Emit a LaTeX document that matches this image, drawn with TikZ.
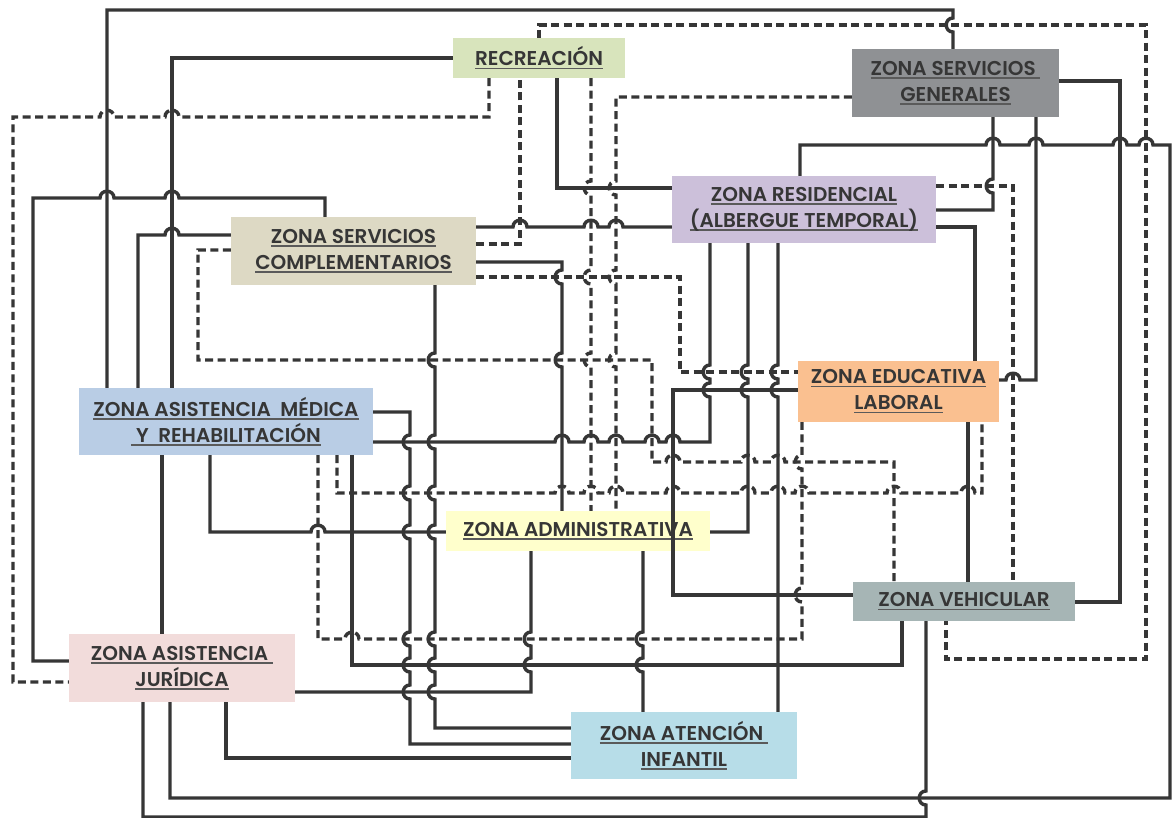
\documentclass[tikz,border=0pt]{standalone}
\usepackage{fontspec}
\setmainfont{Poppins}[BoldFont={Poppins SemiBold}]
\usepackage{xcolor}
\usepackage{tikz}

\definecolor{lncol}{HTML}{363636}
\definecolor{txtcol}{HTML}{363636}
\definecolor{ulcol}{HTML}{5A5A5A}
\definecolor{recfill}{HTML}{D8E4BC}
\definecolor{zsgfill}{HTML}{8F9194}
\definecolor{zrfill}{HTML}{CCC0DA}
\definecolor{zscfill}{HTML}{DDD9C4}
\definecolor{zamrfill}{HTML}{B9CDE5}
\definecolor{zelfill}{HTML}{FAC090}
\definecolor{zadmfill}{HTML}{FFFFCC}
\definecolor{zvfill}{HTML}{A6B5B5}
\definecolor{zajfill}{HTML}{F2DCDB}
\definecolor{zaifill}{HTML}{B7DDE8}

% underlined label text
\newcommand\ul[1]{\sbox0{#1}\rlap{\color{ulcol}\rule[-3.5pt]{\wd0}{1.8pt}}\usebox0}
% line hops: right, left, down, up
\newcommand\hopr[2]{-- ({#1-7},#2) .. controls ({#1-7},{#2-9}) and ({#1+7},{#2-9}) .. ({#1+7},#2)}
\newcommand\hopl[2]{-- ({#1+7},#2) .. controls ({#1+7},{#2-9}) and ({#1-7},{#2-9}) .. ({#1-7},#2)}
\newcommand\hopd[2]{-- (#1,{#2-7}) .. controls ({#1-9},{#2-7}) and ({#1-9},{#2+7}) .. (#1,{#2+7})}
\newcommand\hopu[2]{-- (#1,{#2+7}) .. controls ({#1-9},{#2+7}) and ({#1-9},{#2-7}) .. (#1,{#2-7})}

\tikzset{
  zone/.style={rectangle, inner sep=0pt, text=txtcol, align=center,
    font=\bfseries\fontsize{20}{26}\selectfont},
  ln/.style={draw=lncol, line width=3.4pt},
  dln/.style={ln, dash pattern=on 8pt off 4.5pt},
}

\begin{document}
\begin{tikzpicture}[x=1pt, y=-1pt]
\useasboundingbox (0,0) rectangle (1173,818);
\fill[white] (0,0) rectangle (1173,818);

\node (rec) [zone, fill=recfill, minimum width=172pt, minimum height=40pt] at (539,58) {\ul{RECREACIÓN}};
\node (zsg) [zone, fill=zsgfill, minimum width=207pt, minimum height=68pt] at (955.5,83) {\ul{ZONA SERVICIOS\ }\\\ul{GENERALES}};
\node (zr) [zone, fill=zrfill, minimum width=264pt, minimum height=67pt] at (804,209.5) {\ul{ZONA RESIDENCIAL}\\\ul{(ALBERGUE TEMPORAL)}};
\node (zsc) [zone, fill=zscfill, minimum width=245pt, minimum height=68pt] at (353.5,251) {\ul{ZONA SERVICIOS}\\\ul{COMPLEMENTARIOS}};
\node (zamr) [zone, fill=zamrfill, minimum width=294pt, minimum height=67pt] at (226,421.5) {\ul{ZONA ASISTENCIA\ \ MÉDICA}\\\ul{\ Y\ \ REHABILITACIÓN}};
\node (zel) [zone, fill=zelfill, minimum width=201pt, minimum height=61pt] at (898.5,391.5) {\ul{ZONA EDUCATIVA}\\\ul{LABORAL}};
\node (zadm) [zone, fill=zadmfill, minimum width=264pt, minimum height=40pt] at (578,531) {\ul{ZONA ADMINISTRATIVA}};
\node (zv) [zone, fill=zvfill, minimum width=222pt, minimum height=39pt] at (964,601.5) {\ul{ZONA VEHICULAR}};
\node (zaj) [zone, fill=zajfill, minimum width=226pt, minimum height=68pt] at (182,668) {\ul{ZONA ASISTENCIA\ }\\\ul{JURÍDICA}};
\node (zai) [zone, fill=zaifill, minimum width=226pt, minimum height=67pt] at (684,745.5) {\ul{ZONA ATENCIÓN\ }\\\ul{INFANTIL}};

% upper left
\draw[ln] (zamr.north -| 107,0) -- (107,10) -- (953,10) \hopd{953}{25} -- (zsg.north -| 953,0);
\draw[ln] (zamr.north -| 172,0) -- (172,58) -- (rec.west |- 0,58);
\draw[dln] (rec.south -| 489,0) -- (489,117) \hopl{172}{117} \hopl{107}{117} -- (13,117) -- (13,682) -- (zaj.west |- 0,682);
\draw[ln] (zsc.north -| 325,0) -- (325,198) \hopl{172}{198} \hopl{107}{198} -- (33,198) -- (33,661) -- (zaj.west |- 0,661);
\draw[ln] (zamr.north -| 138,0) -- (138,235) \hopr{172}{235} -- (zsc.west |- 0,235);
\draw[dln] (zsc.west |- 0,250) -- (198,250) -- (198,360) -- (652,360) -- (652,462) \hopr{673}{462} \hopr{748}{462} \hopr{778}{462} -- (894,462) -- (zv.north -| 894,0);

% centre
\draw[dln] (zsc.east |- 0,277) -- (680,277) -- (680,372) -- (zel.west |- 0,372);
\draw[ln] (zsc.east |- 0,262) -- (562,262) \hopd{562}{277} \hopd{562}{360} -- (zadm.north -| 562,0);
\draw[ln] (zsc.east |- 0,227) \hopr{520}{227} \hopr{591}{227} \hopr{616}{227} -- (zr.west |- 0,227);
\draw[dln] (zsc.east |- 0,244) -- (520,244) -- (rec.south -| 520,0);
\draw[ln] (rec.south -| 557,0) -- (557,188) -- (zr.west |- 0,188);
\draw[dln] (rec.south -| 591,0) \hopd{591}{188} \hopd{591}{277} \hopd{591}{360} -- (zadm.north -| 591,0);
\draw[dln] (zsg.west |- 0,97) -- (616,97) \hopd{616}{188} \hopd{616}{277} \hopd{616}{360} -- (zadm.north -| 616,0);

% right side
\draw[dln] (rec.north -| 539,0) -- (539,25) -- (1146,25) -- (1146,659) -- (946,659) -- (zv.south -| 946,0);
\draw[ln] (zsg.east |- 0,81) -- (1120,81) -- (1120,602) -- (zv.east |- 0,602);
\draw[ln] (zsg.south -| 993,0) \hopd{993}{186} -- (993,210) -- (zr.east |- 0,210);
\draw[ln] (zsg.south -| 1036,0) -- (1036,380) \hopl{1013}{380} -- (zel.east |- 0,380);
\draw[ln] (zr.north -| 800,0) -- (800,145) \hopr{993}{145} \hopr{1036}{145} \hopr{1120}{145} \hopr{1146}{145} -- (1170,145) -- (1170,798) -- (170,798) -- (zaj.south -| 170,0);
\draw[ln] (zv.south -| 926,0) \hopd{926}{798} -- (926,817) -- (143,817) -- (zaj.south -| 143,0);
\draw[dln] (zr.east |- 0,186) -- (1013,186) -- (zv.north -| 1013,0);
\draw[ln] (zr.east |- 0,227) -- (975,227) -- (zel.north -| 975,0);
\draw[ln] (zel.south -| 968,0) -- (zv.north -| 968,0);

% residencial / educativa
\draw[ln] (zel.west |- 0,390) -- (673,390) -- (673,595) -- (zv.west |- 0,595);
\draw[ln] (zamr.east |- 0,442) \hopr{562}{442} \hopr{591}{442} \hopr{616}{442} \hopr{652}{442} \hopr{673}{442} -- (710,442) \hopu{710}{390} \hopu{710}{372} -- (zr.south -| 710,0);
\draw[ln] (zr.south -| 748,0) \hopd{748}{372} \hopd{748}{390} -- (748,532) -- (zadm.east |- 0,532);
\draw[ln] (zr.south -| 778,0) \hopd{778}{372} \hopd{778}{390} -- (zai.north -| 778,0);

% lower left
\draw[ln] (zamr.south -| 352,0) -- (352,665) -- (902,665) -- (zv.south -| 902,0);
\draw[dln] (zamr.south -| 337,0) -- (337,493) \hopr{562}{493} \hopr{591}{493} \hopr{616}{493} \hopr{673}{493} \hopr{748}{493} \hopr{778}{493} \hopr{802}{493} \hopr{894}{493} \hopr{968}{493} -- (982,493) -- (zel.south -| 982,0);
\draw[dln] (zamr.south -| 318,0) -- (318,639) \hopr{352}{639} -- (802,639) \hopu{802}{595} \hopu{802}{462} -- (zel.south -| 802,0);
\draw[ln] (zamr.south -| 210,0) -- (210,532) \hopr{318}{532} -- (zadm.west |- 0,532);
\draw[ln] (zamr.east |- 0,412) -- (410,412) \hopd{410}{442} \hopd{410}{493} \hopd{410}{532} \hopd{410}{639} \hopd{410}{665} \hopd{410}{692} -- (410,744) -- (zai.west |- 0,744);
\draw[ln] (zsc.south -| 435,0) \hopd{435}{360} \hopd{435}{442} \hopd{435}{493} \hopd{435}{532} \hopd{435}{639} \hopd{435}{665} \hopd{435}{692} -- (435,728) -- (zai.west |- 0,728);
\draw[ln] (zaj.east |- 0,692) -- (531,692) \hopu{531}{665} \hopu{531}{639} -- (zadm.south -| 531,0);
\draw[ln] (zaj.south -| 226,0) -- (226,758) -- (zai.west |- 0,758);
\draw[ln] (zadm.south -| 643,0) \hopd{643}{639} \hopd{643}{665} -- (zai.north -| 643,0);
\draw[ln] (zamr.south -| 162,0) -- (zaj.north -| 162,0);
\end{tikzpicture}
\end{document}
